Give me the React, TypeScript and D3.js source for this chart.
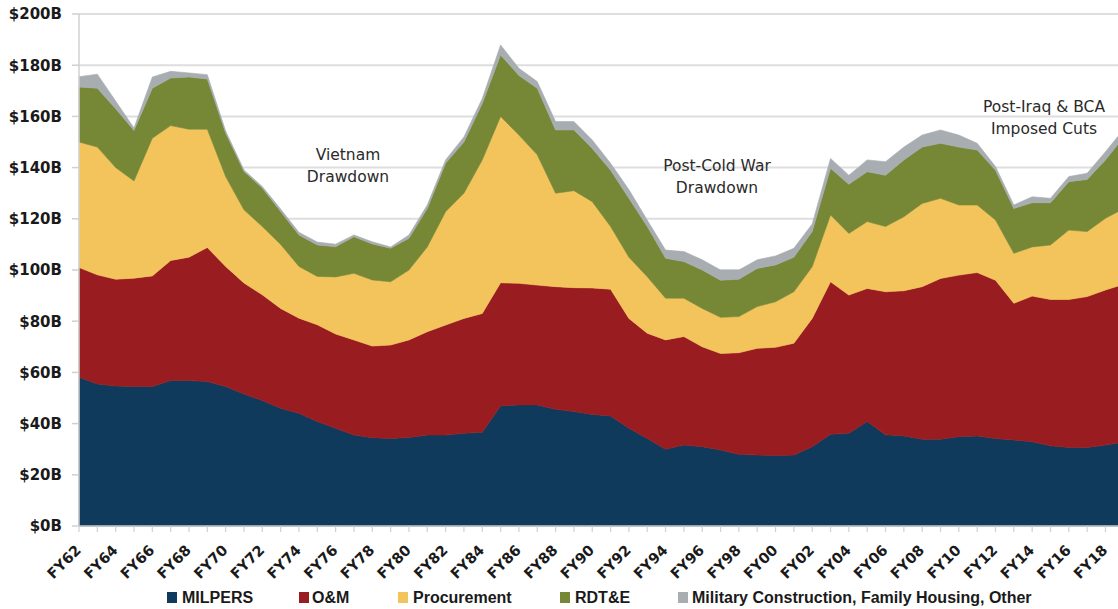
import React from "react";
import * as d3 from "d3";

const years: string[] = [
  "FY62","FY63","FY64","FY65","FY66","FY67","FY68","FY69","FY70","FY71",
  "FY72","FY73","FY74","FY75","FY76","FY77","FY78","FY79","FY80","FY81",
  "FY82","FY83","FY84","FY85","FY86","FY87","FY88","FY89","FY90","FY91",
  "FY92","FY93","FY94","FY95","FY96","FY97","FY98","FY99","FY00","FY01",
  "FY02","FY03","FY04","FY05","FY06","FY07","FY08","FY09","FY10","FY11",
  "FY12","FY13","FY14","FY15","FY16","FY17","FY18","FY19",
];

const milpers: number[] = [
  58.1, 55.5, 54.7, 54.5, 54.5, 56.8, 56.8, 56.4, 54.5, 51.6,
  49.0, 46.0, 44.0, 40.8, 38.2, 35.5, 34.5, 34.2, 34.6, 35.5,
  35.5, 36.2, 36.6, 46.9, 47.3, 47.3, 45.6, 44.7, 43.6, 43.0,
  38.2, 34.2, 30.0, 31.6, 31.0, 29.7, 28.0, 27.7, 27.5, 27.7,
  31.0, 35.8, 36.2, 40.8, 35.6, 35.2, 33.9, 33.9, 34.9, 35.2,
  34.2, 33.6, 32.9, 31.3, 30.7, 30.7, 31.6, 32.8,
];

const om: number[] = [
  42.9, 42.6, 41.7, 42.3, 43.2, 46.9, 48.2, 52.4, 46.9, 43.3,
  41.3, 39.0, 37.2, 37.8, 36.8, 37.2, 35.8, 36.5, 38.1, 40.4,
  43.0, 44.9, 46.4, 48.1, 47.5, 46.8, 47.9, 48.4, 49.4, 49.5,
  42.9, 41.1, 42.7, 42.4, 39.0, 37.7, 39.7, 41.7, 42.3, 43.7,
  50.1, 59.6, 54.0, 52.0, 55.9, 56.7, 59.6, 62.8, 63.1, 63.8,
  61.8, 53.4, 56.9, 57.2, 57.8, 58.9, 60.6, 61.6,
];

const procurement: number[] = [
  49.0, 49.9, 43.6, 38.0, 53.8, 52.7, 50.0, 46.2, 35.1, 28.6,
  26.7, 25.0, 20.2, 18.9, 22.3, 26.0, 25.8, 24.7, 27.3, 33.1,
  44.3, 48.9, 60.0, 65.0, 57.9, 50.9, 36.5, 37.9, 33.7, 24.5,
  23.9, 22.1, 16.3, 15.0, 15.0, 14.1, 14.1, 16.3, 17.8, 20.1,
  20.2, 26.1, 24.1, 26.1, 25.5, 28.9, 32.5, 31.3, 27.4, 26.4,
  23.5, 19.5, 19.2, 21.3, 27.1, 25.4, 28.0, 29.6,
];

const rdte: number[] = [
  21.5, 23.0, 23.0, 19.7, 19.5, 18.6, 20.4, 19.6, 17.0, 15.0,
  15.0, 12.9, 12.3, 12.3, 11.8, 14.3, 14.1, 13.1, 12.4, 15.0,
  18.9, 20.0, 22.0, 24.0, 23.3, 26.0, 24.7, 23.7, 20.8, 22.0,
  23.0, 19.6, 15.6, 14.3, 15.0, 14.5, 14.6, 14.9, 14.4, 13.5,
  13.7, 18.2, 19.2, 19.5, 20.0, 22.2, 22.0, 21.5, 22.6, 21.5,
  19.5, 17.5, 17.3, 16.5, 18.9, 20.4, 22.8, 28.0,
];

const other: number[] = [
  4.0, 5.5, 3.0, 1.0, 4.4, 2.6, 1.6, 1.7, 0.8, 0.6,
  0.6, 0.9, 1.0, 1.1, 1.0, 0.7, 0.8, 0.5, 1.3, 1.4,
  1.3, 2.0, 2.0, 3.9, 2.8, 2.6, 3.3, 3.3, 3.3, 2.7,
  3.4, 2.5, 3.2, 3.9, 4.0, 4.0, 3.6, 3.4, 3.5, 3.5,
  3.0, 3.9, 3.5, 4.6, 5.3, 5.0, 4.7, 5.2, 4.7, 2.6,
  1.4, 1.4, 2.3, 1.7, 2.0, 2.4, 3.2, 3.0,
];

const seriesNames: string[] = [
  "MILPERS",
  "O&M",
  "Procurement",
  "RDT&E",
  "Military Construction, Family Housing, Other",
];
const seriesColors: string[] = ["#0f3a5b", "#991c20", "#f3c45b", "#768836", "#a8adb2"];

const yTicks: number[] = [0, 20, 40, 60, 80, 100, 120, 140, 160, 180, 200];

const annotations: { lines: string[]; x: number; y: number }[] = [
  { lines: ["Vietnam", "Drawdown"], x: 348, y: 160 },
  { lines: ["Post-Cold War", "Drawdown"], x: 717, y: 171 },
  { lines: ["Post-Iraq & BCA", "Imposed Cuts"], x: 1044, y: 112 },
];

const W = 1118;
const H = 609;
const left = 79;
const step = 18.33;
const top = 14;
const bottom = 526;

export default function App() {
  const keys = ["milpers", "om", "procurement", "rdte", "other"];
  const rows = years.map((y, i) => ({
    year: y,
    milpers: milpers[i],
    om: om[i],
    procurement: procurement[i],
    rdte: rdte[i],
    other: other[i],
  }));
  const stacked = d3.stack<any>().keys(keys)(rows);

  const x = d3
    .scalePoint<string>()
    .domain(years)
    .range([left, left + step * (years.length - 1)]);
  const y = d3.scaleLinear().domain([0, 200]).range([bottom, top]);

  const area = d3
    .area<any>()
    .x((d) => x(d.data.year) as number)
    .y0((d) => y(d[0]))
    .y1((d) => y(d[1]))
    .curve(d3.curveLinear);

  const legendPos = [
    { sq: 167, tx: 182 },
    { sq: 299, tx: 312 },
    { sq: 398, tx: 413 },
    { sq: 560, tx: 575 },
    { sq: 678, tx: 692 },
  ];

  return (
    <div style={{ position: "absolute", left: 0, top: 0 }}>
      <svg width={W} height={H} viewBox={`0 0 ${W} ${H}`} style={{ display: "block", background: "#fff" }}>
        {yTicks.map((t) => (
          <line key={"g" + t} x1={left} x2={W} y1={y(t)} y2={y(t)} stroke="#dedede" strokeWidth={2} />
        ))}
        {stacked.map((s, i) => (
          <path key={s.key} d={area(s as any) || ""} fill={seriesColors[i]} stroke={seriesColors[i]} strokeWidth={0.6} />
        ))}
        <line x1={left} x2={left} y1={top} y2={bottom} stroke="#d0d0d0" strokeWidth={1.5} />
        {yTicks.map((t) => (
          <g key={"yt" + t}>
            <line x1={left - 7} x2={left} y1={y(t)} y2={y(t)} stroke="#d0d0d0" strokeWidth={1.5} />
            <text
              x={62}
              y={y(t)}
              dy="0.36em"
              textAnchor="end"
              fontFamily="DejaVu Sans"
              fontWeight="bold"
              fontSize={15}
              fill="#1a1a1a"
            >
              {"$" + t + "B"}
            </text>
          </g>
        ))}
        <line x1={left} x2={W} y1={bottom} y2={bottom} stroke="#c8c8c8" strokeWidth={1.5} />
        {years.map((yr) => (
          <line key={"xt" + yr} x1={x(yr)} x2={x(yr)} y1={bottom} y2={bottom + 6} stroke="#d0d0d0" strokeWidth={1.2} />
        ))}
        {years.map((yr, i) =>
          i % 2 === 0 ? (
            <text
              key={"xl" + yr}
              transform={`translate(${(x(yr) as number) + 3},${bottom + 25}) rotate(-45)`}
              textAnchor="end"
              fontFamily="DejaVu Sans"
              fontWeight="bold"
              fontSize={14.5}
              fill="#1a1a1a"
            >
              {yr}
            </text>
          ) : null
        )}
        {annotations.map((a, i) => (
          <text
            key={"a" + i}
            textAnchor="middle"
            fontFamily="DejaVu Sans"
            fontSize={15.5}
            fill="#2a2a2a"
          >
            {a.lines.map((l, j) => (
              <tspan key={j} x={a.x} y={a.y + j * 22}>
                {l}
              </tspan>
            ))}
          </text>
        ))}
        {seriesNames.map((n, i) => (
          <g key={"lg" + i}>
            <rect x={legendPos[i].sq} y={592} width={10} height={11} fill={seriesColors[i]} />
            <text
              x={legendPos[i].tx}
              y={603}
              fontFamily="Liberation Sans"
              fontWeight="bold"
              fontSize={16}
              fill="#1a1a1a"
            >
              {n}
            </text>
          </g>
        ))}
      </svg>
    </div>
  );
}
